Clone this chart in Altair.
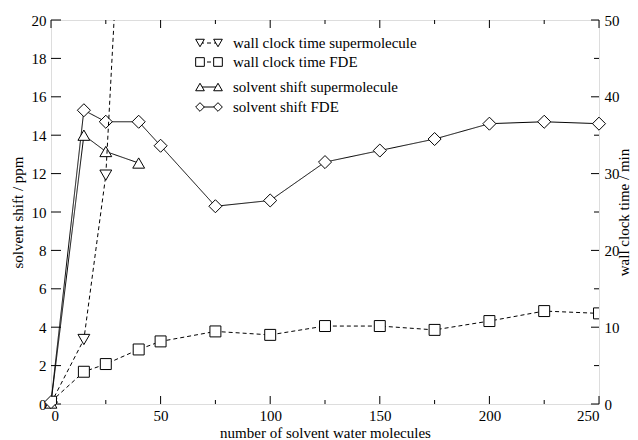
import altair as alt
import pandas as pd

# ---- data ----
x_super = [0, 15, 25, 40]
shift_super = [0.05, 14.0, 13.15, 12.55]          # ppm
wall_super = [0.1, 8.4, 29.8, 110.0]               # min (last point off scale)

x_fde = [0, 15, 25, 40, 50, 75, 100, 125, 150, 175, 200, 225, 250]
shift_fde = [0.1, 15.3, 14.7, 14.7, 13.45, 10.3, 10.6, 12.6, 13.2, 13.8, 14.6, 14.7, 14.6]   # ppm
wall_fde = [0.3, 4.2, 5.2, 7.1, 8.15, 9.45, 9.0, 10.15, 10.15, 9.65, 10.8, 12.1, 11.8]     # min

left_ticks = list(range(0, 21, 2))
right_major = list(range(0, 51, 10))
right_minor = list(range(5, 50, 10))
x_major = list(range(0, 251, 50))
x_minor = list(range(25, 250, 50))

legend_labels = ["wall clock time supermolecule", "wall clock time FDE",
                 "solvent shift supermolecule", "solvent shift FDE"]

W, H = 548, 384
FONT = "Liberation Serif"

df_ss = pd.DataFrame({"x": x_super, "y": shift_super})
df_sf = pd.DataFrame({"x": x_fde, "y": shift_fde})
df_ws = pd.DataFrame({"x": x_super, "y": wall_super})
df_wf = pd.DataFrame({"x": x_fde, "y": wall_fde})

xscale = alt.Scale(domain=[0, 250], nice=False, zero=False)
lscale = alt.Scale(domain=[0, 20], nice=False)
rscale = alt.Scale(domain=[0, 50], nice=False)

common = dict(ticks=False, domain=False, grid=False, labelFont=FONT, labelFontSize=15,
              labelColor="black", titleFont=FONT, titleFontSize=15, titleFontWeight="normal",
              titleColor="black")
xaxis = alt.Axis(title="number of solvent water molecules", values=x_major,
                 labelPadding=4, titlePadding=2, **common)
laxis = alt.Axis(title="solvent shift / ppm", values=left_ticks, labelPadding=5,
                 titlePadding=6, **common)
raxis = alt.Axis(title="wall clock time / min", orient="right", values=right_major,
                 labelPadding=5, titleAngle=270, titleBaseline="top", titleAlign="center",
                 titleX=17, titleY=H / 2, **common)

def X(field="x"):
    return alt.X(f"{field}:Q", scale=xscale, axis=xaxis)

def YL(field="y"):
    return alt.Y(f"{field}:Q", scale=lscale, axis=laxis)

def YR(field="y"):
    return alt.Y(f"{field}:Q", scale=rscale, axis=raxis)

def series(df, yenc, shape, dash, size, clip=False):
    line = alt.Chart(df).mark_line(color="black", strokeWidth=1, strokeDash=dash, clip=clip).encode(
        x=X(), y=yenc)
    pts = alt.Chart(df).mark_point(shape=shape, filled=False, stroke="black", fill="white",
                                   fillOpacity=1, strokeWidth=1, size=size, opacity=1,
                                   clip=clip).encode(x=X(), y=yenc)
    return line, pts

# left group (ppm) with tick marks
left_tick_layer = alt.Chart(pd.DataFrame({"v": left_ticks})).mark_rule(color="black", strokeWidth=1).encode(
    y=YL("v"), x=alt.value(0), x2=alt.value(10))

def xticks(vals, y, y2):
    return alt.Chart(pd.DataFrame({"v": vals})).mark_rule(color="black", strokeWidth=1).encode(
        x=X("v"), y=alt.value(y), y2=alt.value(y2))

ss_line, ss_pts = series(df_ss, YL(), "triangle-up", [1, 0], 140)
sf_line, sf_pts = series(df_sf, YL(), "diamond", [1, 0], 170)

# legend
leg = pd.DataFrame({"label": legend_labels})
leg_y = [23, 42, 67, 87]
leg_shapes = ["triangle-down", "square", "triangle-up", "diamond"]
leg_dash = [[4, 3], [4, 3], [1, 0], [1, 0]]
leg_layers = []
for i in range(4):
    d = leg.iloc[[i]]
    leg_layers.append(alt.Chart(d).mark_rule(color="black", strokeWidth=1, strokeDash=leg_dash[i]).encode(
        x=alt.value(149), x2=alt.value(167), y=alt.value(leg_y[i])))
    for px in (149, 167):
        leg_layers.append(alt.Chart(d).mark_point(shape=leg_shapes[i], filled=False, fill="white",
                                                  fillOpacity=1, stroke="black", strokeWidth=1,
                                                  size=75, opacity=1).encode(
            x=alt.value(px), y=alt.value(leg_y[i])))
    leg_layers.append(alt.Chart(d).mark_text(align="left", baseline="middle", font=FONT, fontSize=15,
                                             color="black").encode(
        x=alt.value(182), y=alt.value(leg_y[i]), text="label:N"))

left = alt.layer(left_tick_layer,
                 xticks(x_major, H, H - 8), xticks(x_major, 0, 8),
                 xticks(x_minor, H, H - 4), xticks(x_minor, 0, 4),
                 ss_line, sf_line, ss_pts, sf_pts, *leg_layers)

# right group (min)
right_major_layer = alt.Chart(pd.DataFrame({"v": right_major})).mark_rule(color="black", strokeWidth=1).encode(
    y=YR("v"), x=alt.value(W), x2=alt.value(W - 8))
right_minor_layer = alt.Chart(pd.DataFrame({"v": right_minor})).mark_rule(color="black", strokeWidth=1).encode(
    y=YR("v"), x=alt.value(W), x2=alt.value(W - 5))

ws_line, ws_pts = series(df_ws, YR(), "triangle-down", [4, 3], 140, clip=True)
wf_line, wf_pts = series(df_wf, YR(), "square", [4, 3], 120, clip=True)

right = alt.layer(right_major_layer, right_minor_layer, ws_line, wf_line, ws_pts, wf_pts)

chart = alt.layer(left, right).resolve_scale(y="independent").properties(
    width=W, height=H,
    autosize=alt.AutoSizeParams(type="none"),
    padding={"left": 43, "top": 12, "right": 31, "bottom": 36},
).configure_view(stroke="black", strokeWidth=1).configure(background="white")

chart.save("out.html", embed_options={"renderer": "svg", "actions": False})
